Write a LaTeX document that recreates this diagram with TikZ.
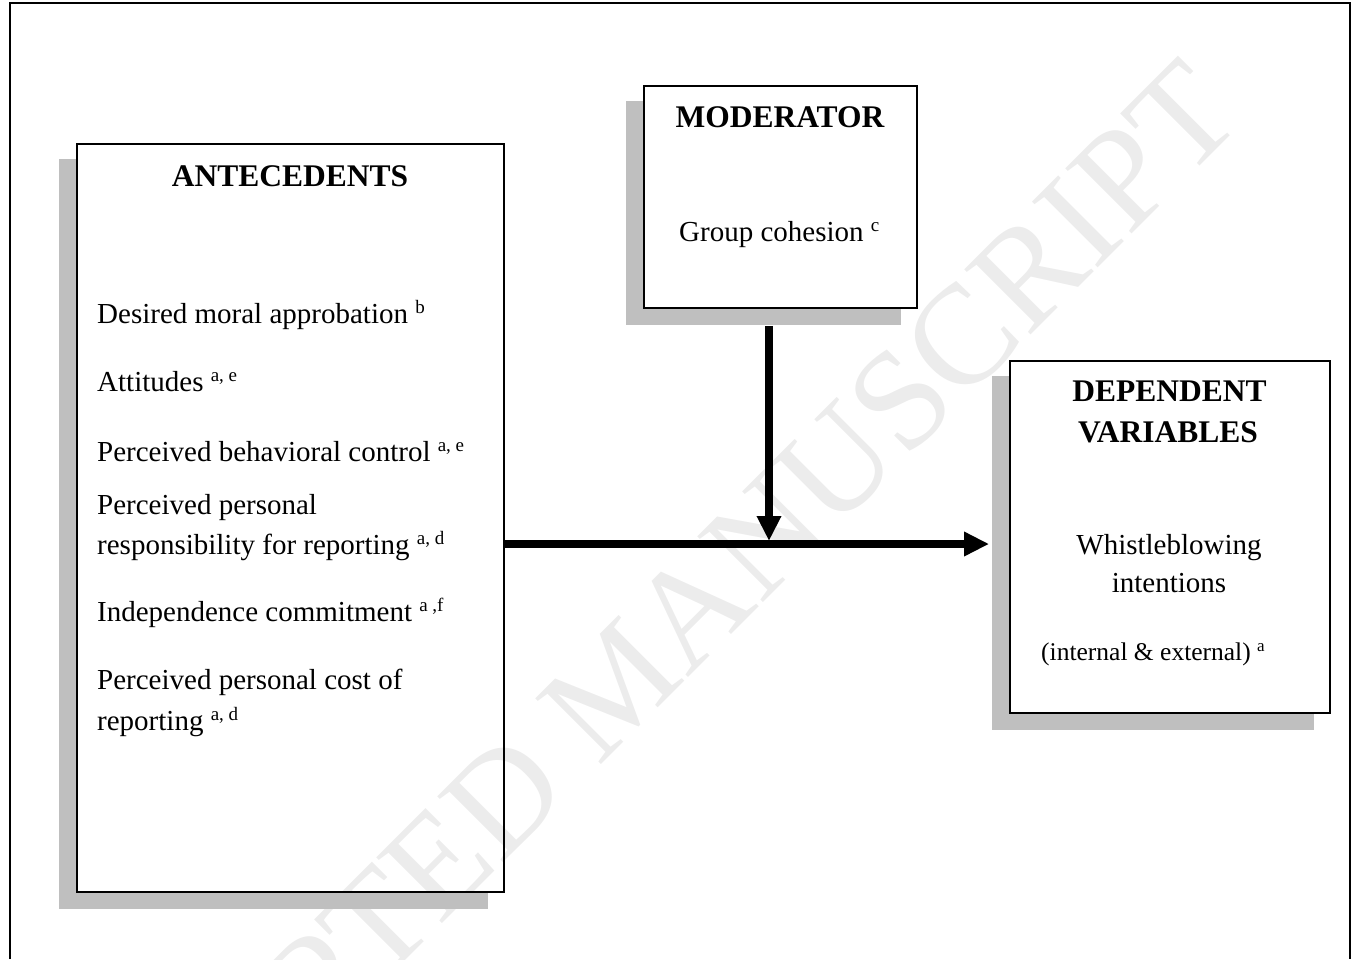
\documentclass[tikz,border=0pt]{standalone}
\usepackage{fontspec}
\setmainfont{Liberation Serif}
\usetikzlibrary{arrows.meta,calc}
\pgfdeclarelayer{bg}
\pgfsetlayers{bg,main}
\definecolor{shadowc}{RGB}{191,191,191}
\definecolor{wmc}{RGB}{236,236,236}
\newcommand{\supx}[1]{\raisebox{10pt}{\fontsize{19}{19}\selectfont #1}}
\newcommand{\supy}[1]{\raisebox{9pt}{\fontsize{17}{17}\selectfont #1}}
\begin{document}
\begin{tikzpicture}[x=1pt,y=-1pt,
  boxnode/.style={draw=black,line width=1.8pt,inner sep=0pt,rectangle},
  headtxt/.style={inner sep=0pt,anchor=base,font=\fontsize{31.5}{36}\selectfont\bfseries},
  bodytxt/.style={inner sep=0pt,anchor=base west,font=\fontsize{29}{33}\selectfont},
  flow/.style={line width=7.5pt,-{Triangle[length=25pt,width=23pt]}},
  shadow/.style={fill=shadowc}]
\useasboundingbox (0,0) rectangle (1358,959);

% outer frame
\draw[line width=2.4pt] (10,959) -- (10,3) -- (1350,3) -- (1350,959);

% boxes
\node[boxnode,minimum width=427pt,minimum height=748pt] (ante) at (290.5,518) {};
\node[boxnode,minimum width=273pt,minimum height=222pt] (mod) at (780.5,197) {};
\node[boxnode,minimum width=320pt,minimum height=352pt] (dep) at (1170,537) {};

\begin{pgfonlayer}{bg}
  \node[rotate=45,anchor=base,inner sep=0pt,text=wmc,font=\fontsize{142}{142}\selectfont] (wm) at (650,716) {ACCEPTED MANUSCRIPT};
  \foreach \b in {ante,mod,dep}{
    \fill[shadow] ([shift={(-17pt,-16pt)}]\b.north west) -- ([yshift=-16pt]\b.north west)
      -- (\b.south west) -- ([xshift=-17pt]\b.south east)
      -- ([shift={(-17pt,-16pt)}]\b.south east) -- ([shift={(-17pt,-16pt)}]\b.south west) -- cycle;
  }
\end{pgfonlayer}

% antecedents text
\node[headtxt] (anteh) at (290,186) {ANTECEDENTS};
\node[bodytxt] (a1) at (97,323) {Desired moral approbation \supx{b}};
\node[bodytxt] (a2) at (97,391) {Attitudes \supx{a, e}};
\node[bodytxt] (a3) at (97,461) {Perceived behavioral control \supx{a, e}};
\node[bodytxt] (a4) at (97,514) {Perceived personal};
\node[bodytxt] (a5) at (97,554) {responsibility for reporting \supx{a, d}};
\node[bodytxt] (a6) at (97,621) {Independence commitment \supx{a ,f}};
\node[bodytxt] (a7) at (97,689) {Perceived personal cost of};
\node[bodytxt] (a8) at (97,730) {reporting \supx{a, d}};

% moderator text
\node[headtxt] (modh) at (780,127) {MODERATOR};
\node[bodytxt] (m1) at (679,241) {Group cohesion \supx{c}};

% dependent text
\node[headtxt] (deph1) at (1169.5,401) {DEPENDENT};
\node[headtxt] (deph2) at (1168,442) {VARIABLES};
\node[bodytxt,anchor=base] (d1) at (1169,554) {Whistleblowing};
\node[bodytxt,anchor=base] (d2) at (1169,592) {intentions};
\node[bodytxt,font=\fontsize{25.5}{30}\selectfont] (d3) at (1041,660) {(internal \& external) \supy{a}};

% connectors
\coordinate (j) at (769,544);
\draw[flow] (ante.east |- j) -- ([xshift=-20pt]dep.west |- j);
\draw[flow] ([yshift=-17pt]j |- mod.south) -- ([yshift=3pt]j);
\end{tikzpicture}
\end{document}
